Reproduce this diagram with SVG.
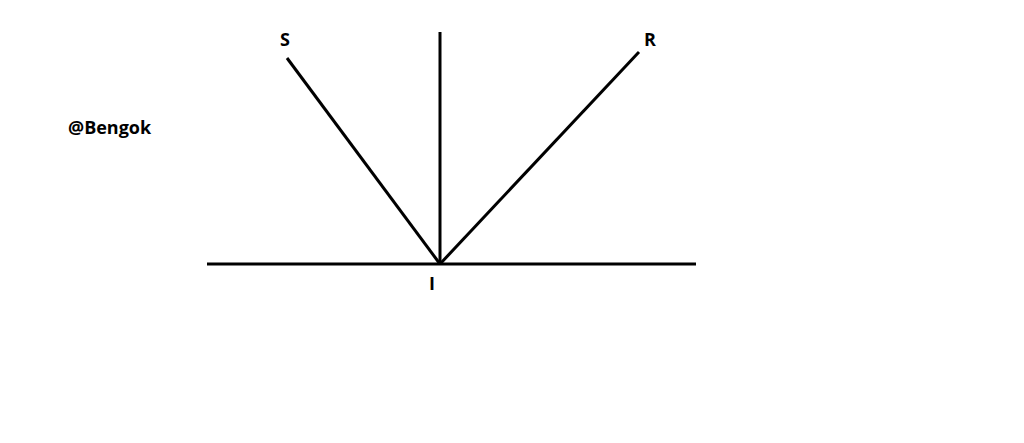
<svg xmlns="http://www.w3.org/2000/svg" width="1024" height="443" viewBox="0 0 1024 443">
<style>
.ln{stroke:#000;stroke-width:3;fill:none}
.t{font-family:"Open Sans","Liberation Sans",sans-serif;font-weight:bold;font-size:18px;fill:#000}
</style>
<rect width="1024" height="443" fill="#fff"/>
<g id="connectors">
<line class="ln" x1="207" y1="264" x2="696" y2="264"/>
<line class="ln" x1="440" y1="32" x2="440" y2="264"/>
<line class="ln" x1="287" y1="58" x2="440" y2="264"/>
<line class="ln" x1="639" y1="52" x2="440" y2="264"/>
</g>
<g id="S"><text class="t" x="285" y="46" text-anchor="middle">S</text></g>
<g id="R"><text class="t" x="650" y="46" text-anchor="middle">R</text></g>
<g id="I"><text class="t" x="432" y="290" text-anchor="middle">I</text></g>
<g id="credit"><text class="t" x="68" y="134">@Bengok</text></g>
</svg>
